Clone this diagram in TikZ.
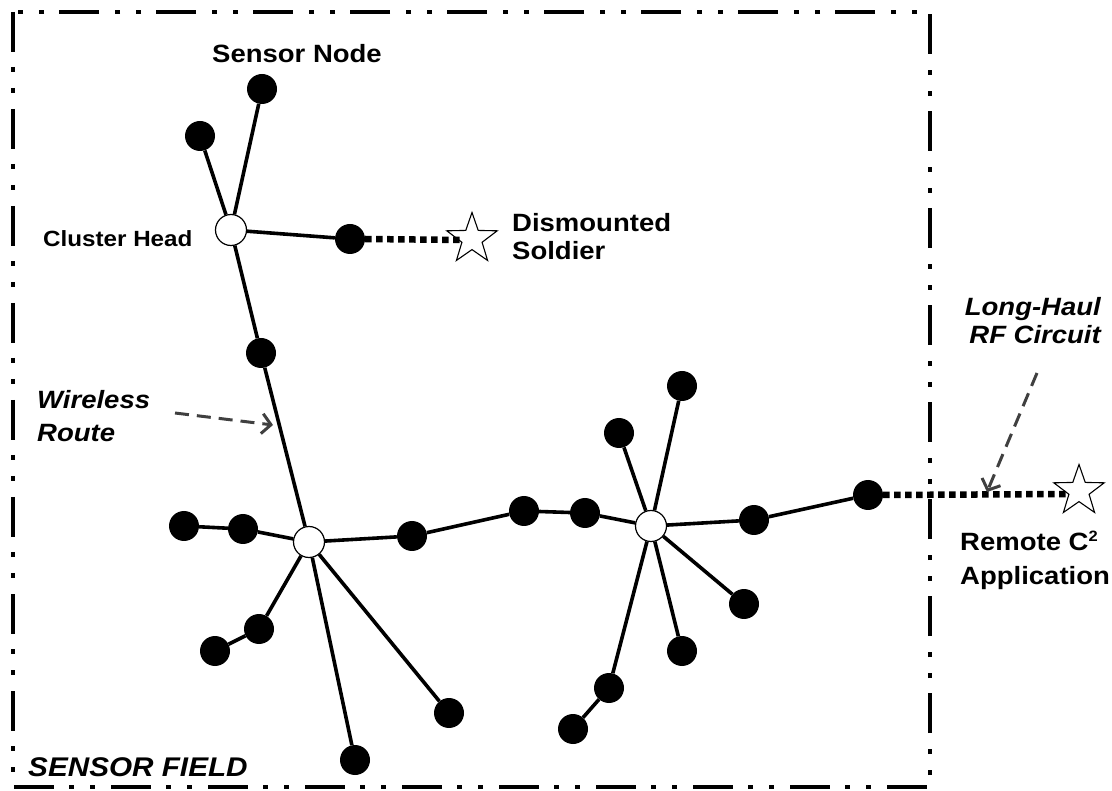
\documentclass[tikz,border=0pt]{standalone}
\usepackage{fontspec}
\setmainfont{Liberation Sans}
\newfontfamily\widesans[FakeStretch=1.1]{Liberation Sans}
\usetikzlibrary{arrows.meta,shapes.geometric}
\begin{document}
\begin{tikzpicture}[x=1pt,y=-1pt,
  sensor/.style={circle,fill=black,minimum size=30pt,inner sep=0pt},
  head/.style={circle,draw=black,fill=white,line width=1.2pt,minimum size=31pt,inner sep=0pt},
  soldier/.style={star,star points=5,star point ratio=2.5,draw=black,line width=1.1pt,minimum size=53pt,inner sep=0pt},
  link/.style={line width=3.6pt},
  radio/.style={line width=6.5pt,dash pattern=on 6.5pt off 4.5pt},
  pointer/.style={draw=black!75,line width=3pt,dash pattern=on 14pt off 8pt,-{Straight Barb[length=9pt,width=20pt,line width=3pt]}},
  field/.style={line width=4.5pt,dash pattern=on 40pt off 15pt on 5pt off 16pt on 5pt off 16pt},
  lbl/.style={inner sep=0pt,font=\widesans\fontsize{25}{28}\selectfont\bfseries,align=left},
  ilbl/.style={inner sep=0pt,font=\widesans\fontsize{25}{33}\selectfont\bfseries\itshape,align=left}]
\useasboundingbox (0,0) rectangle (1112,791);
% field border
\draw[field] (13,12) rectangle (930,787);
% nodes
\node[sensor] (a1) at (262,89) {};
\node[sensor] (a2) at (200,136) {};
\node[head] (h1) at (231,230) {};
\node[sensor] (a3) at (350,239) {};
\node[sensor] (a4) at (261,353) {};
\node[head] (h2) at (309,542) {};
\node[sensor] (b1) at (184,526) {};
\node[sensor] (b2) at (243,529) {};
\node[sensor] (b3) at (412,536) {};
\node[sensor] (b4) at (259,629) {};
\node[sensor] (b5) at (215,651) {};
\node[sensor] (b6) at (449,713) {};
\node[sensor] (b7) at (355,760) {};
\node[sensor] (m1) at (524,511) {};
\node[sensor] (c3) at (585,513) {};
\node[head] (h3) at (651,526) {};
\node[sensor] (c1) at (682,386) {};
\node[sensor] (c2) at (619,433) {};
\node[sensor] (c4) at (754,520) {};
\node[sensor] (c5) at (868,495) {};
\node[sensor] (c6) at (744,604) {};
\node[sensor] (c7) at (682,651) {};
\node[sensor] (c8) at (609,688) {};
\node[sensor] (c9) at (573,729) {};
\node[soldier] (s1) at (472,239) {};
\node[soldier] (s2) at (1079,491) {};
\coordinate (s1end) at (463,240);
\coordinate (s2end) at (1070,494);
% links
\draw[link] (a1) -- (h1);
\draw[link] (a2) -- (h1);
\draw[link] (h1) -- (a3);
\draw[link] (h1) -- (a4);
\draw[link] (a4) -- (h2);
\draw[link] (h2) -- (b2);
\draw[link] (b2) -- (b1);
\draw[link] (h2) -- (b4);
\draw[link] (b4) -- (b5);
\draw[link] (h2) -- (b7);
\draw[link] (h2) -- (b6);
\draw[link] (h2) -- (b3);
\draw[link] (b3) -- (m1);
\draw[link] (m1) -- (c3);
\draw[link] (c3) -- (h3);
\draw[link] (h3) -- (c2);
\draw[link] (h3) -- (c1);
\draw[link] (h3) -- (c4);
\draw[link] (c4) -- (c5);
\draw[link] (h3) -- (c6);
\draw[link] (h3) -- (c7);
\draw[link] (h3) -- (c8);
\draw[link] (c8) -- (c9);
% radio links
\draw[radio] (a3.east) -- (s1end);
\draw[radio] (c5.east) -- (s2end);
% labels
\node[lbl,anchor=base] (tsn) at (297,63) {Sensor Node};
\node[inner sep=0pt,font=\widesans\fontsize{22}{25}\selectfont\bfseries,anchor=base west] (tch) at (43,247) {Cluster Head};
\node[lbl,anchor=base west] (tds) at (512,260) {Dismounted\\Soldier};
\node[ilbl,anchor=base west] (twr) at (37,442) {Wireless\\Route};
\node[ilbl,anchor=base east,align=right,font=\widesans\fontsize{25}{28}\selectfont\bfseries\itshape] (tlh) at (1101,344) {Long-Haul\\RF Circuit};
\node[lbl,anchor=base west,font=\widesans\fontsize{25}{34}\selectfont\bfseries] (trc) at (960,584) {Remote C\raisebox{9pt}{\fontsize{15}{15}\selectfont 2}\\Application};
\node[inner sep=0pt,anchor=base west,font=\widesans\fontsize{27}{30}\selectfont\bfseries\itshape] (tsf) at (28,776) {SENSOR FIELD};
% pointers
\coordinate (wrtail) at (175,413);
\coordinate (wrtip) at (273,425);
\coordinate (lhtail) at (1037,373);
\coordinate (lhtip) at (987,492);
\draw[pointer] (wrtail) -- (wrtip);
\draw[pointer] (lhtail) -- (lhtip);
\end{tikzpicture}
\end{document}
